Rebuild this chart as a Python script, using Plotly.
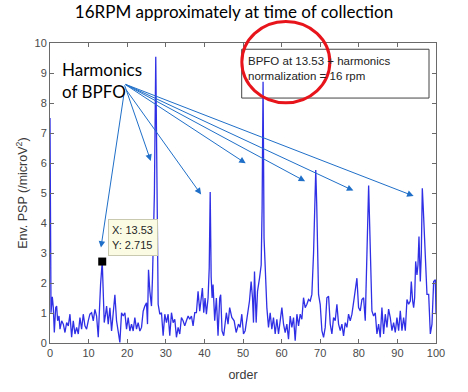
import plotly.graph_objects as go

# ---------------- data ----------------
order = [
    0.00, 0.26, 0.60, 0.86, 1.12, 1.47, 1.72, 1.98, 2.33, 2.59,
    3.02, 3.45, 3.88, 4.31, 4.74, 5.17, 5.60, 6.03, 6.47, 6.90,
    7.33, 7.76, 8.19, 8.62, 9.05, 9.48, 9.91, 10.34, 10.78, 11.21,
    11.64, 12.07, 12.50, 12.76, 13.10, 13.53, 13.80, 14.05, 14.40, 14.66,
    15.09, 15.52, 15.95, 16.38, 16.81, 17.24, 17.67, 18.10, 18.53, 18.97,
    19.40, 19.83, 20.26, 20.69, 21.12, 21.55, 21.98, 22.41, 22.84, 23.28,
    23.71, 24.14, 24.57, 25.00, 25.26, 25.52, 25.86, 26.29, 26.55, 26.81,
    27.05, 27.40, 27.75, 28.02, 28.45, 28.88, 29.31, 29.74, 30.17, 30.60,
    31.03, 31.47, 31.90, 32.33, 32.76, 33.19, 33.62, 34.05, 34.48, 34.91,
    35.34, 35.78, 36.21, 36.64, 37.07, 37.50, 37.93, 38.36, 38.79, 39.22,
    39.48, 39.83, 40.17, 40.52, 40.95, 41.25, 41.50, 41.75, 42.00, 42.24,
    42.67, 43.10, 43.53, 43.97, 44.22, 44.57, 45.00, 45.69, 46.12, 46.55,
    47.10, 47.71, 48.23, 48.83, 49.26, 49.69, 50.13, 50.56, 51.16, 51.68,
    52.11, 52.46, 52.72, 52.98, 53.41, 53.76, 54.28, 54.71, 54.95, 55.20,
    55.45, 55.75, 56.18, 56.61, 57.04, 57.47, 57.90, 58.34, 58.77, 59.20,
    59.63, 60.07, 60.50, 60.93, 61.36, 61.79, 62.23, 62.66, 63.09, 63.52,
    63.96, 64.39, 64.82, 65.25, 65.68, 66.11, 66.55, 66.98, 67.41, 67.84,
    68.28, 68.60, 68.85, 69.10, 69.35, 69.57, 70.00, 70.44, 70.87, 71.30,
    71.73, 72.17, 72.60, 73.03, 73.46, 73.89, 74.33, 74.76, 75.19, 75.62,
    76.05, 76.49, 76.92, 77.35, 77.78, 78.22, 78.82, 79.51, 79.94, 80.38,
    80.81, 81.24, 81.67, 82.11, 82.30, 82.55, 82.80, 83.00, 83.40, 83.83,
    84.27, 84.70, 85.13, 85.56, 85.99, 86.43, 86.86, 87.29, 87.72, 88.15,
    88.59, 89.02, 89.45, 89.88, 90.32, 90.75, 91.18, 91.61, 92.05, 92.48,
    92.91, 93.34, 93.60, 93.95, 94.21, 94.47, 94.73, 95.07, 95.33, 95.59,
    95.93, 96.19, 96.45, 96.70, 97.23, 97.66, 98.10, 98.35, 98.53, 98.96,
    99.39, 99.83, 100.00,
]
psp = [
    7.50, 1.01, 1.54, 1.17, 0.35, 1.18, 1.23, 0.74, 0.90, 0.46,
    0.74, 0.63, 0.35, 0.68, 0.57, 0.96, 0.19, 0.74, 0.30, 0.52,
    0.30, 0.85, 0.46, 0.96, 0.57, 0.46, 0.74, 0.96, 1.01, 0.74,
    1.12, 0.90, 0.19, 1.23, 1.95, 2.715, 1.84, 0.68, 0.96, 1.23,
    0.63, 1.17, 0.40, 1.12, 1.61, 0.74, 0.30, 0.02, 1.01, 0.90,
    1.01, 0.46, 0.85, 0.40, 0.63, 0.40, 0.85, 0.46, 0.68, 0.40,
    0.52, 1.06, 1.23, 1.34, 0.63, 2.44, 1.73, 1.23, 2.16, 3.37,
    5.00, 9.54, 3.00, 1.29, 0.96, 1.01, 0.24, 0.96, 0.68, 0.96,
    0.24, 1.01, 0.68, 0.79, 0.19, 0.52, 0.30, 0.85, 0.74, 0.57,
    0.74, 0.90, 0.79, 0.90, 0.57, 1.01, 1.01, 1.72, 1.06, 1.56,
    1.83, 1.01, 1.50, 0.96, 1.50, 2.50, 5.03, 2.20, 1.50, 1.95,
    0.74, 1.50, 0.24, 1.50, 1.61, 0.40, 0.24, 1.01, 0.63, 1.18,
    0.85, 0.74, 0.35, 0.63, 0.52, 0.96, 0.30, 0.41, 0.90, 1.40,
    2.05, 1.51, 0.68, 2.38, 0.68, 1.72, 2.16, 2.60, 4.50, 8.71,
    3.50, 2.39, 1.18, 0.52, 1.01, 0.46, 0.85, 0.30, 0.79, 0.30,
    0.74, 1.18, 0.63, 0.35, 0.63, 0.13, 0.90, 0.52, 0.85, 0.08,
    0.96, 0.57, 0.96, 0.79, 1.51, 1.18, 1.29, 1.45, 1.40, 1.62,
    3.00, 4.80, 5.77, 4.60, 3.38, 1.62, 1.29, 0.41, 0.19, 0.52,
    1.51, 1.56, 0.63, 0.30, 0.85, 0.74, 1.29, 0.63, 0.41, 0.63,
    0.24, 0.68, 0.52, 0.96, 0.74, 0.96, 1.51, 2.16, 1.18, 1.07,
    1.45, 1.51, 0.74, 2.60, 4.00, 5.25, 4.00, 2.60, 1.07, 0.90,
    1.01, 0.30, 0.63, 0.19, 1.18, 0.30, 0.96, 0.52, 1.13, 0.85,
    0.41, 0.68, 0.35, 0.85, 0.41, 1.07, 0.41, 0.85, 0.41, 1.45,
    1.29, 1.40, 2.05, 1.40, 1.18, 1.51, 2.72, 2.27, 2.60, 3.55,
    2.05, 2.94, 5.16, 4.50, 3.15, 1.62, 1.62, 0.63, 0.30, 0.63,
    2.05, 2.11, 0.96,
]
assert len(order) == len(psp)

tip_x, tip_y = 13.53, 2.715
x_ticks = [0, 10, 20, 30, 40, 50, 60, 70, 80, 90, 100]
y_ticks = [0, 1, 2, 3, 4, 5, 6, 7, 8, 9, 10]

title_text = "16RPM approximately at time of collection"
harm_text = "Harmonics<br>of BPFO"
box_text = "BPFO at 13.53 + harmonics<br>normalization = 16 rpm"
tip_text = "X: 13.53<br>Y: 2.715"

# arrow tail (text anchor) and heads, in data units
arrow_tail = [(19.4, 8.5), (19.2, 8.64), (19.4, 8.5), (19.2, 8.64),
              (19.2, 8.64), (19.2, 8.64), (19.2, 8.64)]
arrow_head = [(13.2, 3.18), (26.1, 6.07), (39.15, 4.95), (50.7, 5.99),
              (66.1, 5.39), (78.6, 5.08), (94.2, 4.90)]

# ---------------- figure ----------------
AX_FONT = "Liberation Sans, Arial, sans-serif"
CAL_FONT = "Lato, Open Sans, sans-serif"
BLUE = "#1f6fc8"

fig = go.Figure()
fig.add_trace(go.Scatter(
    x=order, y=psp, mode="lines",
    line=dict(color="#2f2fe6", width=1.3),
    hoverinfo="skip", showlegend=False,
))
fig.add_trace(go.Scatter(
    x=[tip_x], y=[tip_y], mode="markers",
    marker=dict(symbol="square", size=8, color="black"),
    hoverinfo="skip", showlegend=False,
))

axis_common = dict(
    showgrid=False, zeroline=False, showline=True, linecolor="#6a6a6a",
    linewidth=1, mirror="ticks", ticks="inside", ticklen=4,
    tickcolor="#6a6a6a", tickfont=dict(family=AX_FONT, size=11, color="#4a4a4a"),
)

fig.update_layout(
    width=468, height=392,
    margin=dict(l=50, r=32, t=43, b=46),
    paper_bgcolor="white", plot_bgcolor="white",
    title=dict(text=title_text, x=0.5, xanchor="center", y=1 - 12 / 392,
               yanchor="middle", font=dict(family=CAL_FONT, size=17, color="black")),
    xaxis=dict(range=[0, 100], tickvals=x_ticks, **axis_common,
               title=dict(text="order", standoff=12,
                          font=dict(family=AX_FONT, size=12.5, color="#3a3a3a"))),
    yaxis=dict(range=[0, 10], tickvals=y_ticks, **axis_common),
    showlegend=False,
    hovermode=False,
)

annotations = []
# y-axis title
annotations.append(dict(
    text="Env. PSP (/microV<sup>2</sup>)", xref="paper", yref="paper",
    x=-0.073, y=0.5, xanchor="center", yanchor="middle", textangle=-90,
    showarrow=False, font=dict(family=AX_FONT, size=12.5, color="#3a3a3a"),
))
# arrows
for (tx, ty), (hx, hy) in zip(arrow_tail, arrow_head):
    annotations.append(dict(
        x=hx, y=hy, xref="x", yref="y", ax=tx, ay=ty, axref="x", ayref="y",
        text="", showarrow=True, arrowhead=2, arrowsize=1.3, arrowwidth=1,
        arrowcolor=BLUE,
    ))
# "Harmonics of BPFO"
annotations.append(dict(
    text=harm_text, xref="x", yref="y", x=2.6, y=9.52, xanchor="left",
    yanchor="top", align="left", showarrow=False,
    font=dict(family=CAL_FONT, size=17, color="black"),
))
# legend-like box text (box itself drawn as a shape below)
annotations.append(dict(
    text=box_text, xref="paper", yref="paper", x=(247 - 50) / 386,
    y=(345.7 - 54.0) / 303, xanchor="left", yanchor="top", align="left",
    showarrow=False, borderpad=0,
    font=dict(family=AX_FONT, size=11.5, color="#222222"),
))
# data tip
annotations.append(dict(
    text=tip_text, xref="x", yref="y", x=15.04, y=4.15, xanchor="left",
    yanchor="top", align="left", valign="middle", width=42, height=29,
    showarrow=False, bgcolor="#fbfbe4",
    bordercolor="#c9c9b0", borderwidth=1, borderpad=3,
    font=dict(family=AX_FONT, size=11, color="#262626"),
))
fig.update_layout(annotations=annotations)

# legend-like box (under the data line, as in the reference)
fig.add_shape(type="rect", xref="paper", yref="paper",
              x0=(241.7 - 50) / 386, x1=(429 - 50) / 386,
              y0=(345.7 - 98.3) / 303, y1=(345.7 - 49) / 303,
              fillcolor="white", line=dict(color="#444444", width=1),
              layer="below")
# red circle highlight
fig.add_shape(type="circle", xref="paper", yref="paper",
              x0=0.497, x1=0.725, y0=0.801, y1=1.072,
              line=dict(color="#e8141c", width=3), layer="above")

fig.write_html("out.html", config={"displayModeBar": False, "staticPlot": True},
               post_script="document.body.style.margin='0';")
